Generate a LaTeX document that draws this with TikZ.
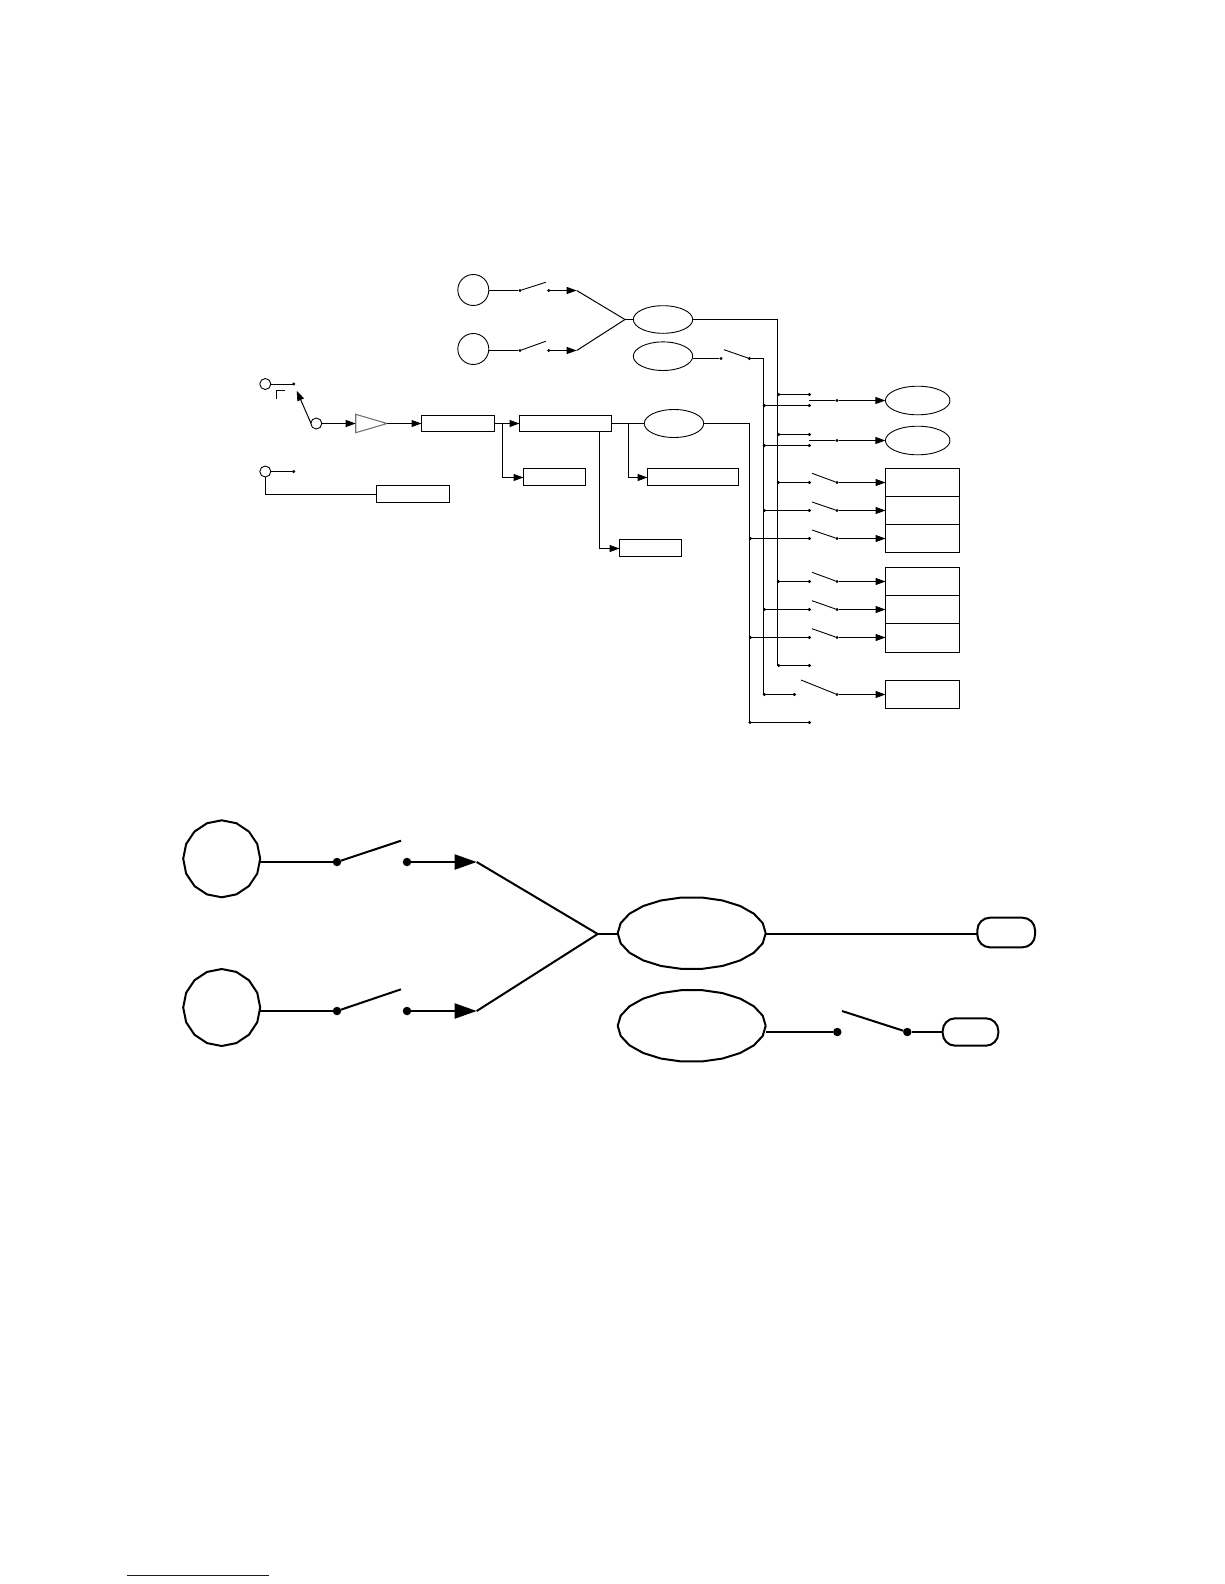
\documentclass[tikz,border=0pt]{standalone}
\usetikzlibrary{arrows.meta,shapes.geometric}
\definecolor{footblue}{RGB}{10,10,150}
\tikzset{
  wire/.style={line width=1pt,line join=miter},
  arrowwire/.style={wire,-{Triangle[length=10pt,width=7pt]}},
  fatwire/.style={line width=2pt,line join=round},
  fatarrow/.style={fatwire,-{Triangle[length=22pt,width=15pt]}},
  dotnode/.style={circle,fill=black,draw=none,inner sep=0pt,outer sep=0pt,minimum size=3.4pt},
  fatdot/.style={circle,fill=black,draw=none,inner sep=0pt,outer sep=0pt,minimum size=8.5pt},
  boxnode/.style={draw,line width=1pt,rectangle,inner sep=0pt,outer sep=0pt},
  ovalnode/.style={draw,line width=0.9pt,ellipse,inner sep=0pt,outer sep=0pt},
  roundnode/.style={draw,line width=0.9pt,circle,inner sep=0pt,outer sep=0pt},
  ghost/.style={ellipse,inner sep=0pt,outer sep=0pt},
  pill/.style={draw,line width=2pt,rectangle,rounded corners=12.5pt,inner sep=0pt,outer sep=0pt},
}
\newcommand{\polyshape}[6]{%
  \node[ghost,minimum width=2*#4*1pt,minimum height=2*#5*1pt] (#1) at (#2,#3) {};
  \draw[fatwire] plot[domain=0:360,samples=#6] ({#2+#4*cos(\x)},{#3+#5*sin(\x)});
}
\begin{document}
\begin{tikzpicture}[x=1pt,y=-1pt]
\useasboundingbox (0,0) rectangle (1224,1584);

% ---------- upper diagram: sources and merge
\node[roundnode,minimum size=31pt] (src1) at (473.3,290) {};
\node[roundnode,minimum size=31pt] (src2) at (473.3,349) {};
\node[dotnode] (sw1a) at (520,290.5) {};
\node[dotnode] (sw1b) at (548.7,290.5) {};
\node[dotnode] (sw2a) at (520,350.5) {};
\node[dotnode] (sw2b) at (548.7,350.5) {};
\coordinate (arm1) at (545.7,282.3);
\coordinate (arm2) at (545.7,341.3);
\coordinate (tip1) at (576.7,290.5);
\coordinate (tip2) at (576.7,350.5);
\coordinate (merge) at (625,319.5);
\node[ovalnode,minimum width=59.4pt,minimum height=27.6pt] (ov1) at (663,319.5) {};
\node[ovalnode,minimum width=59.4pt,minimum height=28.6pt] (ov2) at (663,356.2) {};
\node[ovalnode,minimum width=59.4pt,minimum height=28pt] (ov3) at (674,423.5) {};

\draw[wire] (src1.east |- sw1a) -- (sw1a);
\draw[wire] (src2.east |- sw2a) -- (sw2a);
\draw[wire,line width=0.9pt] (sw1a) -- (arm1);
\draw[wire,line width=0.9pt] (sw2a) -- (arm2);
\draw[arrowwire] (sw1b) -- (tip1);
\draw[arrowwire] (sw2b) -- (tip2);
\draw[wire] (tip1) -- (merge);
\draw[wire] (tip2) -- (merge);
\draw[wire] (merge) -- (ov1.west);

% buses
\coordinate (busa) at (777.5,319.5);
\coordinate (busaend) at (777.5,665.5);
\coordinate (busb) at (763.5,358.5);
\coordinate (busbend) at (763.5,694.5);
\coordinate (busc) at (749.5,423.5);
\coordinate (buscend) at (749.5,722.5);
\draw[wire] (ov1.east) -- (busa) -- (busaend);
\draw[wire] (ov3.east) -- (busc) -- (buscend);
\node[dotnode] (swba) at (721,358.5) {};
\node[dotnode] (swbb) at (749.3,358.5) {};
\coordinate (armb) at (724,349.7);
\draw[wire] (ov2.east |- swba) -- (swba);
\draw[wire,line width=0.9pt] (armb) -- (swbb);
\draw[wire] (swbb) -- (busb) -- (busbend);

% ---------- upper diagram: left chain
\node[roundnode,minimum size=11pt] (ca) at (265.3,384) {};
\node[dotnode] (cadot) at (293.7,384) {};
\node[roundnode,minimum size=11pt] (cb) at (316.3,423.5) {};
\coordinate (cbtip) at (296.7,390.7);
\coordinate (cbfoot) at (311,423.3);
\node[roundnode,minimum size=11pt] (cc) at (265.3,471.5) {};
\node[dotnode] (ccdot) at (293.7,471.5) {};
\draw[wire] (ca.east |- 0,384.5) -- (cadot |- 0,384.5);
\draw[wire] (cc) -- (ccdot);
\draw[wire] (276.5,398.5) -- (276.5,390.5) -- (285,390.5);
\draw[arrowwire] (cbfoot) -- (cbtip);
\coordinate (tria) at (355.7,414.3);
\coordinate (trib) at (355.7,432.7);
\coordinate (tric) at (387,423.5);
\coordinate (trin) at (355.7,423.5);
\draw[line width=1.1pt,black!55,line join=miter] (tria) -- (tric) -- (trib) -- cycle;
\draw[arrowwire] (cb) -- (trin);
\node[boxnode,minimum width=73pt,minimum height=16pt] (bx1) at (458,423.5) {};
\node[boxnode,minimum width=92pt,minimum height=16pt] (bx2) at (565.5,423.5) {};
\node[boxnode,minimum width=62pt,minimum height=17pt] (bx3) at (554.5,477) {};
\node[boxnode,minimum width=91pt,minimum height=17pt] (bx4) at (693,477) {};
\node[boxnode,minimum width=62pt,minimum height=17pt] (bx5) at (650.5,548) {};
\node[boxnode,minimum width=73pt,minimum height=17pt] (bx6) at (413,494) {};
\draw[arrowwire] (tric) -- (tric -| bx1.west);
\draw[arrowwire] (bx1.east) -- (bx2.west);
\coordinate (ja) at (502.5,423.5);
\draw[arrowwire] (ja) -- (502.5,477.5) -- (bx3.west |- 0,477.5);
\coordinate (jb) at (628.5,423.5);
\draw[wire] (bx2.east) -- (ov3.west);
\draw[arrowwire] (jb) -- (628.5,477.5) -- (bx4.west |- 0,477.5);
\coordinate (jc) at (599.5,431.5);
\draw[arrowwire] (jc) -- (599.5,548.5) -- (bx5.west |- 0,548.5);
\draw[wire] (cc) -- (cc |- 0,494.5) -- (bx6.west |- 0,494.5);

% ---------- upper diagram: right targets
\node[ovalnode,minimum width=64.6pt,minimum height=28.6pt] (tg1) at (917.7,400.5) {};
\node[ovalnode,minimum width=64.6pt,minimum height=28.6pt] (tg2) at (917.7,440.5) {};
\node[boxnode,minimum width=74pt,minimum height=28pt] (st1) at (922.5,482.5) {};
\node[boxnode,minimum width=74pt,minimum height=28pt] (st2) at (922.5,510.5) {};
\node[boxnode,minimum width=74pt,minimum height=28pt] (st3) at (922.5,538.5) {};
\node[boxnode,minimum width=74pt,minimum height=28pt] (st4) at (922.5,581.5) {};
\node[boxnode,minimum width=74pt,minimum height=28pt] (st5) at (922.5,609.5) {};
\node[boxnode,minimum width=74pt,minimum height=29pt] (st6) at (922.5,638) {};
\node[boxnode,minimum width=74pt,minimum height=28pt] (st7) at (922.5,694.5) {};

% paralleled inputs to the two ovals
\foreach \n/\ya/\yb/\yo/\tg in {p/394.5/405.5/400.5/tg1,q/434.5/445.5/440.5/tg2}{
  \node[dotnode] (\n a) at (809.3,\ya) {};
  \node[dotnode] (\n b) at (809.3,\yb) {};
  \node[dotnode] (\n j) at (778.7,\ya) {};
  \node[dotnode] (\n k) at (764.3,\yb) {};
  \node[dotnode] (\n o) at (837,\yo) {};
  \coordinate (\n s) at (809,\yo);
  \draw[wire] (\n j.center) -- (\n a);
  \draw[wire] (\n k.center) -- (\n b);
  \draw[wire] (\n s) -- (\n o);
  \draw[arrowwire] (\n o) -- (\tg.west);
}

% switched rows
\foreach \n/\bus/\y/\tg/\armtop in {c/busa/482.5/st1/473.3,d/busb/510.5/st2/502,e/busc/538.5/st3/530,f/busa/581.5/st4/572.3,g/busb/609.5/st5/600.7,h/busc/637.5/st6/628.7}{
  \coordinate (\n t) at (\bus |- 0,\y);
  \node[dotnode] (\n j) at ([xshift=1pt]\n t) {};
  \node[dotnode] (\n a) at (809.3,\y) {};
  \node[dotnode] (\n o) at (837,\y) {};
  \coordinate (\n r) at (812,\armtop);
  \draw[wire] (\n t) -- (\n a);
  \draw[wire,line width=0.9pt] (\n r) -- (\n o);
  \draw[arrowwire] (\n o) -- (\n o -| \tg.west);
}

% last rows
\node[dotnode] (ij) at (778.7,665.5) {};
\node[dotnode] (ia) at (809.3,665.5) {};
\draw[wire] (busaend) -- (ia);
\node[dotnode] (jj) at (764.3,694.5) {};
\node[dotnode] (ja2) at (794.3,694.5) {};
\node[dotnode] (jo) at (837,694.5) {};
\coordinate (jr) at (801,680);
\draw[wire] (busbend) -- (ja2);
\draw[wire,line width=0.9pt] (jr) -- (jo);
\draw[arrowwire] (jo) -- (st7.west);
\node[dotnode] (kj) at (750,722.5) {};
\node[dotnode] (ka) at (809.3,722.5) {};
\draw[wire] (buscend) -- (ka);

% ---------- lower diagram
\polyshape{lsa}{221.7}{858.8}{38.5}{38.5}{17}
\polyshape{lsb}{221.7}{1007.5}{38.5}{38.5}{17}
\polyshape{lov}{691.7}{933.2}{74}{36}{23}
\polyshape{lvb}{691.7}{1025.8}{74}{36}{23}
\node[fatdot] (lda) at (337,862) {};
\node[fatdot] (ldb) at (407,862) {};
\node[fatdot] (ldc) at (337,1011) {};
\node[fatdot] (ldd) at (407,1011) {};
\coordinate (larma) at (401,840.7);
\coordinate (larmb) at (401,989.3);
\coordinate (ltipa) at (476.7,862);
\coordinate (ltipb) at (476.7,1011);
\coordinate (lmerge) at (597.7,934);
\draw[fatwire] (lsa.east |- lda) -- (lda);
\draw[fatwire] (lsb.east |- ldc) -- (ldc);
\draw[fatwire] (lda) -- (larma);
\draw[fatwire] (ldc) -- (larmb);
\draw[fatarrow] (ldb) -- (ltipa);
\draw[fatarrow] (ldd) -- (ltipb);
\draw[fatwire] (ltipa) -- (lmerge);
\draw[fatwire] (ltipb) -- (lmerge);
\draw[fatwire] (lmerge) -- (lov.west |- lmerge);
\node[pill,minimum width=57.7pt,minimum height=29.6pt] (lpa) at (1006.2,932.5) {};
\node[pill,minimum width=55.6pt,minimum height=27.4pt] (lpb) at (970.5,1032) {};
\draw[fatwire] (lov.east |- lmerge) -- (lpa.west |- lmerge);
\node[fatdot] (lde) at (837.3,1032) {};
\node[fatdot] (ldf) at (907.3,1032) {};
\coordinate (larmc) at (842,1011);
\draw[fatwire] (lvb.east |- lde) -- (lde);
\draw[fatwire] (larmc) -- (ldf);
\draw[fatwire] (ldf) -- (lpb.west);

% ---------- footer rule
\coordinate (fa) at (127.3,1575.5);
\coordinate (fb) at (269,1575.5);
\draw[footblue,line width=1pt] (fa) -- (fb);
\end{tikzpicture}
\end{document}
